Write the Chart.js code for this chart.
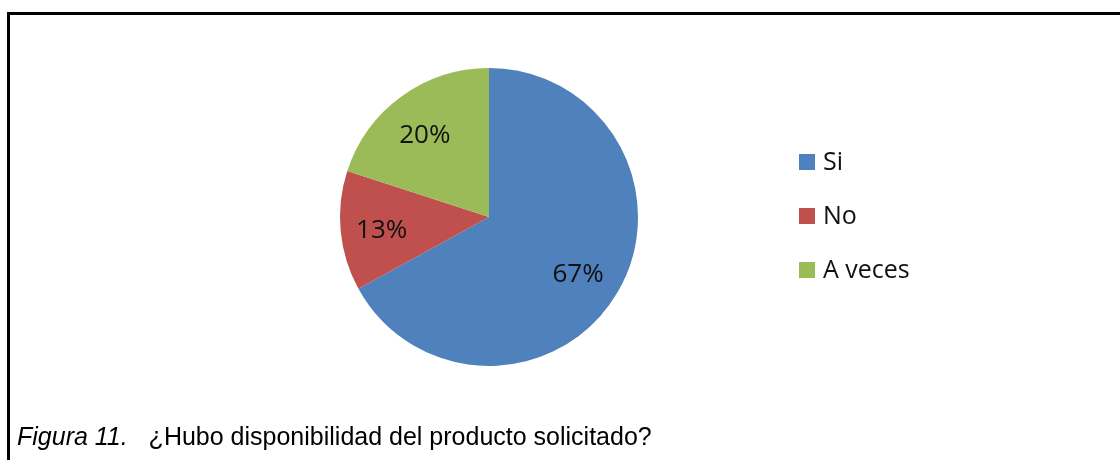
<!DOCTYPE html>
<html lang="es">
<head>
<meta charset="utf-8">
<title>Figura 11</title>
<script src="https://cdn.jsdelivr.net/npm/chart.js@4/dist/chart.umd.min.js"></script>
<style>
  html, body {
    margin: 0;
    padding: 0;
    background: #fff;
    width: 1120px;
    height: 460px;
    overflow: hidden;
  }
  #frame {
    position: absolute;
    left: 7px;
    top: 12px;
    width: 1200px;
    height: 500px;
    border-top: 3px solid #000;
    border-left: 3px solid #000;
  }
  #chart {
    position: absolute;
    left: 0;
    top: 0;
  }
  #caption {
    position: absolute;
    left: 17px;
    top: 422px;
    font-family: "Liberation Sans", Arial, sans-serif;
    font-size: 25px;
    color: #000;
    white-space: pre;
  }
  #caption i {
    font-style: italic;
    margin-right: 7px;
  }
</style>
</head>
<body>
<div id="frame"></div>
<canvas id="chart" width="1120" height="460"></canvas>
<div id="caption"><i>Figura 11.</i>  ¿Hubo disponibilidad del producto solicitado?</div>

<script>
const categories = ["Si", "No", "A veces"];
const percentages = [67, 13, 20];
const sliceColors = ["#4F81BD", "#C0504D", "#9BBB59"];

const labelFont = '26px "Open Sans", "Noto Sans", sans-serif';

// percentage text inside each slice
const sliceLabels = {
  id: "sliceLabels",
  afterDatasetsDraw(chart) {
    const ctx = chart.ctx;
    const meta = chart.getDatasetMeta(0);
    const values = chart.data.datasets[0].data;
    ctx.save();
    ctx.font = labelFont;
    ctx.fillStyle = "#111";
    ctx.textAlign = "center";
    ctx.textBaseline = "middle";
    meta.data.forEach((arc, i) => {
      const mid = (arc.startAngle + arc.endAngle) / 2;
      const r = arc.outerRadius * 0.71;
      ctx.fillText(values[i] + "%", arc.x + Math.cos(mid) * r - 2, arc.y + Math.sin(mid) * r + 4);
    });
    ctx.restore();
  },
};

// legend on the right, one item per row
const sideLegend = {
  id: "sideLegend",
  afterDraw(chart) {
    const ctx = chart.ctx;
    const colors = chart.data.datasets[0].backgroundColor;
    const x = 799;
    let y = 163;
    ctx.save();
    ctx.font = '25px "Open Sans", "Noto Sans", sans-serif';
    ctx.textBaseline = "middle";
    chart.data.labels.forEach((label, i) => {
      ctx.fillStyle = colors[i];
      ctx.fillRect(x, y - 9, 16, 16);
      ctx.fillStyle = "#111";
      ctx.fillText(label, x + 24, y);
      y += 54;
    });
    ctx.restore();
  },
};

new Chart(document.getElementById("chart"), {
  type: "pie",
  data: {
    labels: categories,
    datasets: [
      {
        data: percentages,
        backgroundColor: sliceColors,
        borderWidth: 0,
      },
    ],
  },
  options: {
    responsive: false,
    animation: false,
    layout: {
      padding: { left: 340, right: 482, top: 68, bottom: 94 },
    },
    plugins: {
      legend: { display: false },
      tooltip: { enabled: false },
    },
  },
  plugins: [sliceLabels, sideLegend],
});
</script>
</body>
</html>
